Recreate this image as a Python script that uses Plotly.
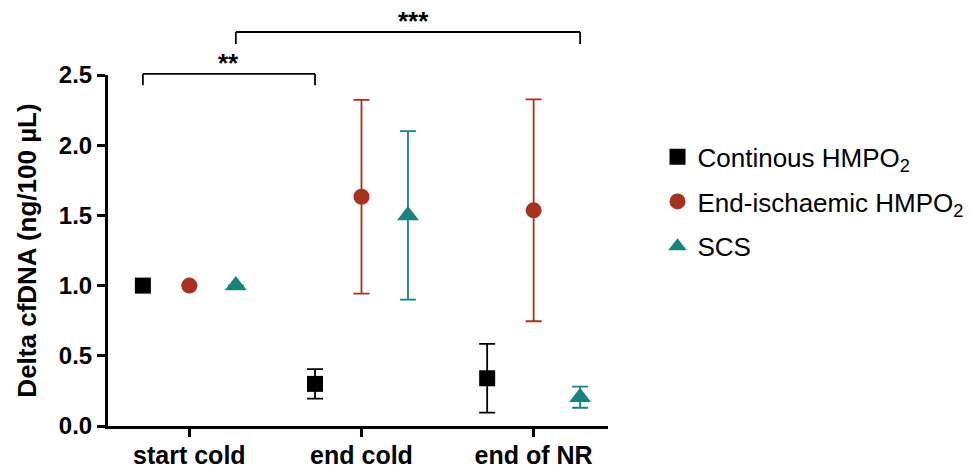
import plotly.graph_objects as go

categories = ["start cold", "end cold", "end of NR"]
series_names = ["Continous HMPO<sub>2</sub>", "End-ischaemic HMPO<sub>2</sub>", "SCS"]
cont_mean = [1.0, 0.30, 0.34]
cont_err = [0.0, 0.105, 0.245]
endi_mean = [1.0, 1.633, 1.536]
endi_err = [0.0, 0.69, 0.79]
scs_mean = [1.0, 1.50, 0.205]
scs_err = [0.0, 0.60, 0.075]
y_ticks = [0.0, 0.5, 1.0, 1.5, 2.0, 2.5]
sig_labels = ["**", "***"]

colors = ["#000000", "#A9321F", "#17837F"]
symbols = ["square", "circle", "triangle-up"]
sizes = [16, 16, 19]
offsets = [-0.27, 0.0, 0.27]
means = [cont_mean, endi_mean, scs_mean]
errs = [cont_err, endi_err, scs_err]

xpos = list(range(len(categories)))

fig = go.Figure()
for i in range(3):
    fig.add_trace(go.Scatter(
        x=[p + offsets[i] for p in xpos],
        y=means[i],
        mode="markers",
        name=series_names[i],
        legendgroup=f"g{i}",
        marker=dict(symbol=symbols[i], size=sizes[i], color=colors[i], line=dict(width=0)),
        error_y=dict(type="data", array=errs[i], visible=True, color=colors[i],
                     thickness=1.8, width=8),
        cliponaxis=False,
    ))

fam = "Liberation Sans, Arial, sans-serif"
tick_font = dict(family=fam, size=24, color="black")
title_font = dict(family=fam, size=26, color="black")

fig.update_layout(
    width=973, height=465,
    margin=dict(l=100, r=362, t=67, b=47),
    paper_bgcolor="white", plot_bgcolor="white",
    showlegend=True,
    legend=dict(x=1.099, y=0.834, xanchor="left", yanchor="top",
                font=dict(family=fam, size=26, color="black"),
                tracegroupgap=8, itemwidth=30, bgcolor="rgba(0,0,0,0)"),
    xaxis=dict(
        range=[-0.4726, 2.432], tickmode="array", tickvals=xpos,
        ticktext=[f"<b>{c}</b>" for c in categories],
        showline=True, linecolor="black", linewidth=3,
        ticks="outside", ticklen=8, tickwidth=3, tickcolor="black",
        showgrid=False, zeroline=False, tickfont=dict(family=fam, size=25, color="black"),
        automargin=False, ticklabelstandoff=-3,
    ),
    yaxis=dict(
        range=[0, 2.5], tickmode="array", tickvals=y_ticks,
        ticktext=[f"<b>{v:.1f}</b>" for v in y_ticks],
        showline=True, linecolor="black", linewidth=3,
        ticks="outside", ticklen=8, tickwidth=3, tickcolor="black",
        showgrid=False, zeroline=False, tickfont=tick_font, automargin=False,
        title=dict(text="<b>Delta cfDNA (ng/100 µL)</b>", font=title_font, standoff=15),
    ),
)

# significance brackets
brackets = [
    (xpos[0] + offsets[0], xpos[1] + offsets[0], 1.003, 0.971, sig_labels[0], 0),
    (xpos[0] + offsets[2], xpos[2] + offsets[2], 1.1225, 1.088, sig_labels[1], 6),
]
for x0, x1, ytop, yend, lab, xs in brackets:
    for xa, ya, xb, yb in [(x0, yend, x0, ytop), (x0, ytop, x1, ytop), (x1, ytop, x1, yend)]:
        fig.add_shape(type="line", xref="x", yref="paper", x0=xa, y0=ya, x1=xb, y1=yb,
                      line=dict(color="black", width=1.8))
    fig.add_annotation(x=(x0 + x1) / 2, y=ytop, xref="x", yref="paper",
                       text=f"<b>{lab}</b>", showarrow=False, yanchor="bottom",
                       yshift=-6, xshift=xs,
                       font=dict(family=fam, size=26, color="black"))

fig.write_html("out.html")
